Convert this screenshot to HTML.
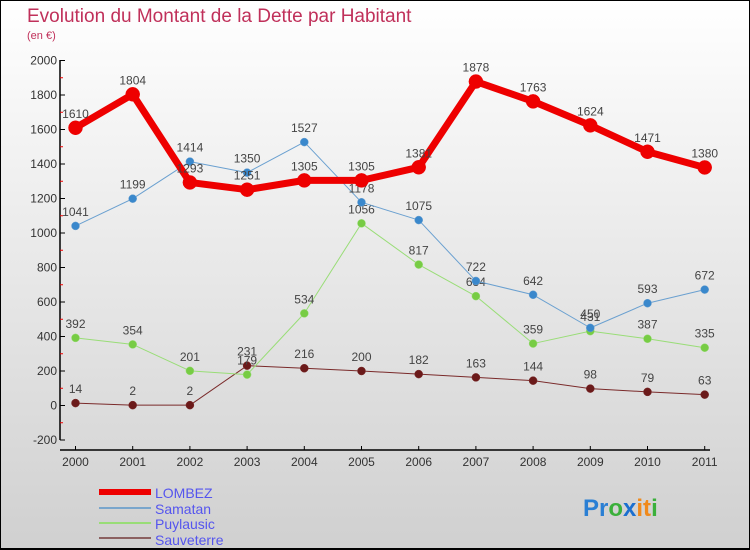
<!DOCTYPE html>
<html><head><meta charset="utf-8"><style>
body{margin:0}
#c{width:750px;height:550px;position:relative;background:linear-gradient(#ffffff,#d0d0d0);box-sizing:border-box;border:1px solid #000;border-bottom:2px solid #000;overflow:hidden;font-family:"Liberation Sans",sans-serif}
</style></head><body>
<div id="c">
<svg width="750" height="550" style="position:absolute;left:-1px;top:-1px" id="s">
<text x="27" y="22" font-size="19" fill="#c0305a">Evolution du Montant de la Dette par Habitant</text>
<text x="27" y="39" font-size="11" fill="#c0305a">(en €)</text>
<g id="g"></g>
<g>
<rect x="99" y="489" width="52" height="6" fill="#e00"/>
<line x1="99" y1="508" x2="151" y2="508" stroke="#7aa6cc" stroke-width="2"/>
<line x1="99" y1="523" x2="151" y2="523" stroke="#99dd77" stroke-width="2"/>
<line x1="99" y1="538" x2="151" y2="538" stroke="#8b6060" stroke-width="2"/>
<text x="155" y="498" font-size="14" fill="#5555ee">LOMBEZ</text>
<text x="155" y="514" font-size="14" fill="#5555ee">Samatan</text>
<text x="155" y="529" font-size="14" fill="#5555ee">Puylausic</text>
<text x="155" y="545" font-size="14" fill="#5555ee">Sauveterre</text>
</g>
<text x="583" y="516" font-size="24" font-weight="bold"><tspan fill="#2a7fd4">Pr</tspan><tspan fill="#3bb03b">o</tspan><tspan fill="#1a6fd0">x</tspan><tspan fill="#f08a1c">it</tspan><tspan fill="#3bb03b">i</tspan></text>
</svg>
</div>
<script>
const years=[2000,2001,2002,2003,2004,2005,2006,2007,2008,2009,2010,2011];
const lombez=[1610,1804,1293,1251,1305,1305,1381,1878,1763,1624,1471,1380];
const samatan=[1041,1199,1414,1350,1527,1178,1075,722,642,450,593,672];
const puylausic=[392,354,201,179,534,1056,817,634,359,431,387,335];
const sauveterre=[14,2,2,231,216,200,182,163,144,98,79,63];
const yTicks=[-200,0,200,400,600,800,1000,1200,1400,1600,1800,2000];
const NS='http://www.w3.org/2000/svg';
const g=document.getElementById('g');
const X=i=>75.5+i*57.2;
const Y=v=>405.5-v*34.5/200;
function el(t,a,parent){const e=document.createElementNS(NS,t);for(const k in a)e.setAttribute(k,a[k]);(parent||g).appendChild(e);return e;}
let e;
e=el('line',{x1:60,y1:60,x2:60,y2:440,stroke:'#000','stroke-width':1.5});


e=el('line',{x1:60,y1:450,x2:710,y2:450,stroke:'#000','stroke-width':1.5});


yTicks.forEach((t,i)=>{
  el('line',{x1:60,y1:Y(t),x2:65,y2:Y(t),stroke:'#000'});
  if(i<yTicks.length-1){el('line',{x1:60,y1:Y(t+100),x2:63,y2:Y(t+100),stroke:'#e00'});}
  e=el('text',{x:57,y:Y(t)+4,'font-size':12,'text-anchor':'end',fill:'#333'});
  e.textContent=t;
  
  
});
years.forEach((y,i)=>{
  el('line',{x1:X(i),y1:446,x2:X(i),y2:450,stroke:'#000'});
  e=el('text',{x:X(i),y:466,'font-size':12,'text-anchor':'middle',fill:'#333'});
  e.textContent=y;
  
  
});
function series(data,color,dot,w,r,name){
  const p=el('polyline',{points:data.map((v,i)=>X(i)+','+Y(v)).join(' '),fill:'none',stroke:color,'stroke-width':w,'stroke-linejoin':'round'});
  
  
  data.forEach((v,i)=>{
    const c=el('circle',{cx:X(i),cy:Y(v),r:r,fill:dot,stroke:color,'stroke-width':0.5});
    
    
    const t=el('text',{x:X(i),y:Y(v)-10,'font-size':12,'text-anchor':'middle',fill:'#444'});
    t.textContent=v;
    
    
  });
}
series(sauveterre,'#7a2a2a','#6b1a1a',1,4,'sauveterre');
series(puylausic,'#99dd77','#77cc44',1,4,'puylausic');
series(samatan,'#6aa0d0','#3a88cc',1,4,'samatan');
series(lombez,'#ee0000','#ee0000',7,7,'lombez');
</script>
</body></html>
